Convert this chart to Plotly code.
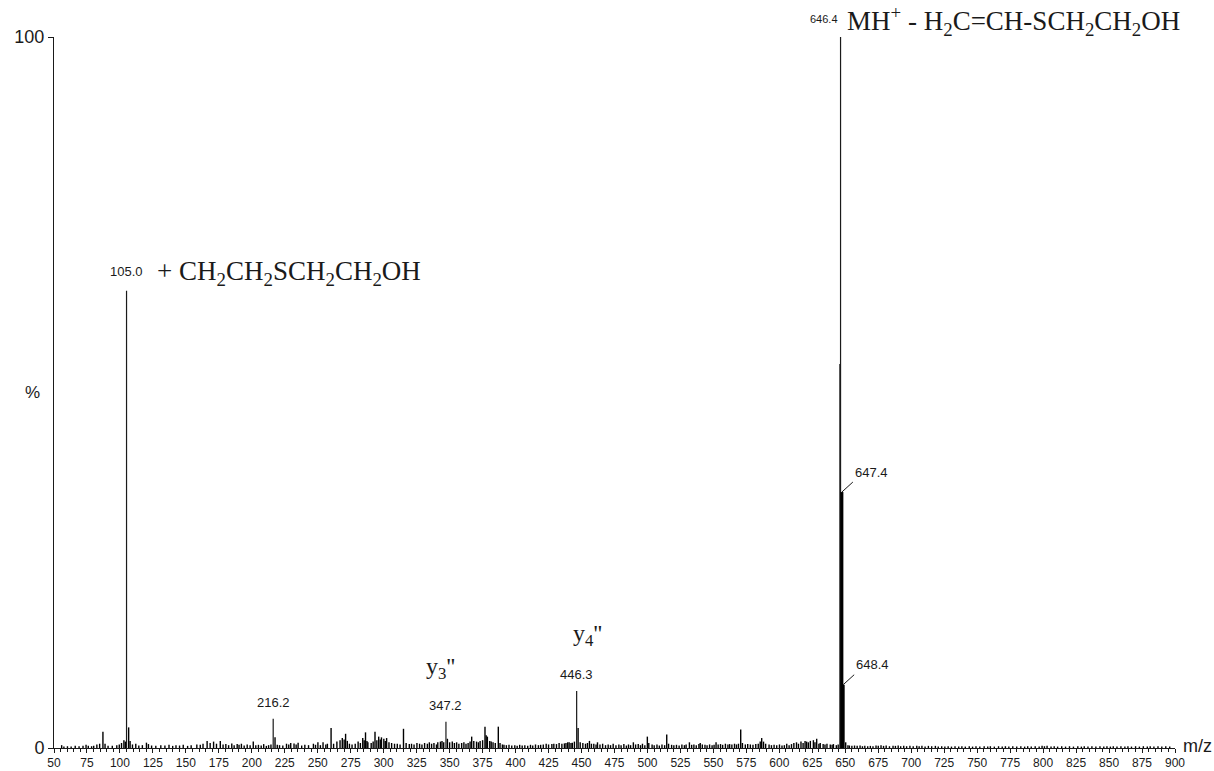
import plotly.graph_objects as go

# ---- data ----
# minor peaks / noise: [m/z, relative intensity %]
minor_peaks = [
    [55.8, 0.4], [57.5, 0.2], [60.2, 0.25], [63.0, 0.2], [66.1, 0.3], [69.0, 0.25], [72.0, 0.3], [74.3, 0.45],
    [76.0, 0.3], [78.5, 0.25], [80.1, 0.3], [82.5, 0.5], [84.6, 0.6], [87.1, 2.3], [88.7, 0.6], [91.0, 0.3],
    [94.2, 0.3], [97.6, 0.4], [99.5, 0.5], [101.2, 0.7], [103.0, 1.1], [104.1, 0.9], [106.6, 2.9], [107.7, 1.0],
    [109.5, 0.5], [112.0, 0.6], [114.3, 0.35], [117.0, 0.4], [120.1, 0.75], [121.6, 0.55], [124.0, 0.35], [127.2, 0.3],
    [131.0, 0.4], [134.1, 0.35], [137.2, 0.45], [140.0, 0.3], [142.5, 0.4], [145.2, 0.35], [148.0, 0.45], [151.3, 0.3],
    [154.0, 0.4], [158.3, 0.5], [160.9, 0.45], [163.0, 0.6], [166.1, 1.0], [168.4, 0.7], [171.0, 0.9], [173.2, 0.6],
    [176.1, 1.0], [178.2, 0.5], [180.3, 0.55], [182.4, 0.4], [184.8, 0.65], [186.6, 0.4], [188.9, 0.55], [190.3, 0.45],
    [192.1, 0.6], [194.2, 0.35], [196.5, 0.5], [198.7, 0.4], [201.1, 0.9], [203.0, 0.4], [205.0, 0.45], [207.1, 0.35],
    [209.0, 0.55], [211.0, 0.3], [212.7, 0.4], [214.5, 0.5], [217.6, 1.5], [219.3, 0.45], [221.0, 0.4], [223.5, 0.35],
    [226.3, 0.6], [228.0, 0.5], [229.5, 0.7], [232.0, 0.65], [233.6, 0.5], [235.1, 0.75], [237.8, 0.35], [240.2, 0.45],
    [243.0, 0.4], [246.7, 0.6], [248.3, 0.45], [250.1, 0.8], [252.0, 0.4], [254.0, 0.8], [256.1, 0.5], [257.3, 0.6],
    [260.1, 2.8], [262.0, 0.6], [264.5, 0.9], [266.9, 1.1], [268.6, 1.4], [270.0, 1.2], [271.1, 2.0], [272.4, 1.0],
    [274.0, 0.6], [276.0, 0.5], [278.4, 0.6], [280.6, 0.9], [282.3, 0.7], [284.1, 1.4], [285.2, 1.1], [286.2, 2.2],
    [287.3, 1.0], [288.0, 0.8], [290.5, 0.7], [292.0, 0.9], [293.4, 2.3], [294.8, 1.1], [296.2, 1.6], [297.4, 1.2],
    [298.3, 1.5], [300.1, 1.3], [301.2, 1.0], [302.2, 1.4], [304.0, 0.8], [306.0, 0.7], [308.2, 0.6], [310.3, 0.6],
    [312.4, 0.5], [315.0, 2.7], [317.0, 0.7], [319.4, 0.55], [321.1, 0.6], [323.0, 0.5], [325.2, 0.7], [327.2, 0.6],
    [329.0, 0.5], [331.0, 0.7], [333.1, 0.6], [334.6, 0.8], [336.3, 0.6], [338.1, 0.7], [340.0, 0.5], [341.0, 0.8],
    [343.0, 0.9], [344.2, 1.0], [345.5, 0.8], [348.3, 1.3], [350.0, 0.8], [352.0, 0.9], [353.6, 0.7], [355.3, 0.8],
    [357.0, 0.6], [359.1, 0.7], [360.8, 0.8], [362.4, 0.6], [364.0, 0.7], [365.5, 0.9], [366.7, 1.6], [368.3, 1.0],
    [370.4, 0.9], [371.8, 0.8], [373.1, 1.0], [375.0, 1.1], [376.8, 3.0], [377.7, 1.8], [378.6, 1.6], [380.4, 1.0],
    [381.5, 0.9], [382.9, 0.8], [384.6, 0.7], [386.9, 3.0], [388.2, 0.7], [390.0, 0.5], [391.2, 0.45], [393.0, 0.4],
    [395.0, 0.45], [397.1, 0.35], [399.4, 0.4], [401.2, 0.3], [403.1, 0.45], [405.0, 0.35], [407.0, 0.4], [409.2, 0.3],
    [411.3, 0.45], [413.0, 0.35], [415.1, 0.5], [417.3, 0.4], [419.0, 0.45], [421.0, 0.5], [423.2, 0.6], [425.0, 0.5],
    [427.5, 0.55], [429.0, 0.6], [431.0, 0.55], [433.0, 0.7], [435.1, 0.6], [437.0, 0.65], [438.2, 0.7], [439.5, 0.8],
    [440.6, 0.8], [442.0, 0.7], [443.0, 0.75], [444.6, 0.9], [447.4, 2.8], [449.0, 0.8], [451.0, 0.7], [453.0, 0.6],
    [454.5, 0.7], [456.0, 1.0], [457.5, 0.6], [459.3, 0.6], [461.0, 0.5], [462.1, 0.8], [464.0, 0.5], [466.0, 0.6],
    [468.2, 0.4], [470.2, 0.5], [472.0, 0.4], [474.0, 0.6], [476.1, 0.4], [478.3, 0.5], [480.0, 0.4], [482.1, 0.55],
    [484.0, 0.35], [485.6, 0.5], [487.2, 0.4], [489.3, 0.8], [491.0, 0.5], [493.0, 0.55], [494.7, 0.4], [496.2, 0.6],
    [498.0, 0.4], [499.9, 1.6], [501.0, 0.7], [503.5, 0.5], [505.1, 0.4], [507.2, 0.5], [509.0, 0.35], [511.0, 0.5],
    [513.0, 0.4], [514.6, 1.9], [516.0, 0.6], [518.3, 0.45], [520.0, 0.4], [522.0, 0.45], [524.0, 0.35], [526.1, 0.5],
    [528.0, 0.4], [529.3, 0.5], [531.8, 0.8], [533.5, 0.45], [535.2, 0.5], [537.0, 0.4], [539.0, 0.55], [540.0, 0.7],
    [541.6, 0.5], [543.6, 0.45], [545.2, 0.4], [547.1, 0.5], [549.0, 0.4], [550.5, 0.45], [552.0, 0.8], [553.6, 0.5],
    [555.4, 0.55], [557.0, 0.45], [559.1, 0.6], [561.0, 0.5], [562.3, 0.55], [564.0, 0.5], [566.0, 0.6], [567.5, 0.5],
    [569.0, 0.6], [570.7, 2.6], [572.0, 0.7], [574.2, 0.5], [576.0, 0.55], [578.0, 0.5], [580.0, 0.45], [582.1, 0.55],
    [584.0, 0.6], [585.5, 0.9], [586.6, 1.4], [588.0, 0.9], [589.6, 0.6], [592.2, 0.5], [594.0, 0.4], [596.0, 0.45],
    [598.0, 0.4], [600.1, 0.5], [602.0, 0.35], [603.8, 0.4], [605.6, 0.6], [607.4, 0.4], [609.2, 0.55], [611.0, 0.7],
    [613.0, 0.8], [614.5, 0.6], [616.4, 0.9], [618.0, 0.7], [619.5, 1.0], [620.7, 0.9], [622.0, 0.8], [623.5, 1.0],
    [625.8, 1.1], [627.0, 0.8], [628.3, 1.3], [630.0, 0.6], [631.0, 0.7], [633.2, 0.55], [634.6, 0.5], [636.1, 0.6],
    [638.6, 0.5], [640.0, 0.45], [641.0, 0.55], [643.2, 0.4], [644.6, 0.5], [650.3, 0.8], [652.0, 0.4], [653.1, 0.35],
    [655.0, 0.3], [657.0, 0.35], [659.0, 0.3], [661.2, 0.35], [663.0, 0.25], [664.8, 0.3], [667.0, 0.25], [669.0, 0.3],
    [671.0, 0.25], [673.3, 0.35], [675.0, 0.3], [677.1, 0.4], [679.0, 0.3], [681.0, 0.35], [683.5, 0.25], [686.2, 0.3],
    [688.0, 0.3], [690.1, 0.35], [692.0, 0.25], [694.3, 0.3], [696.5, 0.25], [699.0, 0.3], [701.5, 0.25], [704.2, 0.3],
    [706.0, 0.25], [708.1, 0.3], [710.5, 0.2], [713.0, 0.3], [715.5, 0.25], [718.3, 0.3], [720.5, 0.2], [723.1, 0.25],
    [725.5, 0.2], [728.0, 0.25], [730.5, 0.2], [733.2, 0.25], [736.0, 0.2], [738.4, 0.25], [741.0, 0.2], [744.0, 0.25],
    [746.5, 0.2], [749.1, 0.25], [752.0, 0.2], [755.3, 0.25], [758.0, 0.2], [760.0, 0.25], [763.0, 0.2], [766.2, 0.25],
    [769.0, 0.2], [771.4, 0.25], [774.0, 0.2], [777.0, 0.25], [780.0, 0.2], [783.1, 0.25], [786.0, 0.2], [788.3, 0.25],
    [791.0, 0.2], [794.0, 0.25], [797.0, 0.2], [799.2, 0.3], [801.0, 0.25], [803.0, 0.3], [806.0, 0.2], [808.4, 0.25],
    [811.0, 0.2], [814.1, 0.25], [817.0, 0.2], [820.0, 0.25], [823.0, 0.2], [826.3, 0.25], [829.0, 0.2], [831.2, 0.25],
    [834.0, 0.2], [837.0, 0.25], [840.0, 0.2], [843.1, 0.25], [846.0, 0.2], [848.4, 0.25], [851.0, 0.2], [853.2, 0.25],
    [856.0, 0.2], [859.0, 0.25], [862.0, 0.2], [864.3, 0.25], [867.0, 0.2], [870.1, 0.25], [873.0, 0.2], [876.0, 0.25],
    [879.0, 0.2], [881.2, 0.25], [884.0, 0.2], [887.1, 0.25], [890.0, 0.2], [893.0, 0.25], [896.0, 0.2],
]

# labelled peaks
label_mz = [105.0, 216.2, 347.2, 446.3, 645.9, 646.4]
label_int = [64.3, 4.1, 3.7, 8.0, 54.0, 100.0]
label_text = ["105.0", "216.2", "347.2", "446.3", "", "646.4"]

# isotope peaks (drawn thick)
iso_mz = [647.4, 648.4]
iso_int = [36.0, 8.9]
iso_text = ["647.4", "648.4"]

x_ticks = list(range(50, 901, 25))

INK = "#1a1a1a"
SANS = "Liberation Sans, Arial, sans-serif"
SERIF = "Liberation Serif, Times New Roman, serif"


def sticks(mz, inten):
    xs, ys = [], []
    for m, i in zip(mz, inten):
        xs += [m, m, None]
        ys += [0, i, None]
    return xs, ys


fig = go.Figure()
mx, my = sticks([p[0] for p in minor_peaks], [p[1] for p in minor_peaks])
fig.add_trace(go.Scatter(x=mx, y=my, mode="lines", line=dict(color="#000000", width=1.4), hoverinfo="skip"))
lx, ly = sticks(label_mz, label_int)
fig.add_trace(go.Scatter(x=lx, y=ly, mode="lines", line=dict(color=INK, width=1.2), hoverinfo="skip"))
ix, iy = sticks(iso_mz, iso_int)
fig.add_trace(go.Scatter(x=ix, y=iy, mode="lines", line=dict(color="#000000", width=3), hoverinfo="skip"))

ann = []
for m, i, t in zip(label_mz, label_int, label_text):
    if not t or m == 646.4:
        continue
    ann.append(dict(x=m, y=i, text=t, showarrow=False, xanchor="center", yanchor="bottom",
                    yshift=10 if m == 105.0 else 7, font=dict(family=SANS, size=13, color=INK)))

# 646.4 label, small, left of top
ann.append(dict(x=646.4, y=100, text="646.4", showarrow=False, xanchor="right", yanchor="bottom",
                xshift=-1, yshift=10, font=dict(family=SANS, size=11, color=INK)))
ann.append(dict(x=646.4, y=100, showarrow=False, xanchor="left", yanchor="middle", xshift=4, yshift=16,
                text="MH<sup>+</sup> - H<sub>2</sub>C=CH-SCH<sub>2</sub>CH<sub>2</sub>OH",
                font=dict(family=SERIF, size=27, color=INK)))
ann.append(dict(x=105.0, y=64.3, showarrow=False, xanchor="left", yanchor="middle", xshift=28, yshift=18,
                text="+ CH<sub>2</sub>CH<sub>2</sub>SCH<sub>2</sub>CH<sub>2</sub>OH",
                font=dict(family=SERIF, size=27, color=INK)))
ann.append(dict(x=347.2, y=3.7, showarrow=False, xanchor="center", yanchor="middle", xshift=-5, yshift=54,
                text="y<sub>3</sub>''", font=dict(family=SERIF, size=24, color=INK)))
ann.append(dict(x=446.3, y=8.0, showarrow=False, xanchor="center", yanchor="middle", xshift=11, yshift=56,
                text="y<sub>4</sub>''", font=dict(family=SERIF, size=24, color=INK)))

shapes = []
for m, i, t in zip(iso_mz, iso_int, iso_text):
    shapes.append(dict(type="line", xref="x", yref="y", xsizemode="pixel", ysizemode="pixel",
                       xanchor=m, yanchor=i, x0=0, x1=11, y0=0, y1=10,
                       line=dict(color=INK, width=1)))
    ann.append(dict(x=m, y=i, text=t, showarrow=False, xanchor="left", yanchor="middle",
                    xshift=11, yshift=20, font=dict(family=SANS, size=13, color=INK)))

ann.append(dict(x=1.005, xref="paper", y=0, yref="y", text="m/z", showarrow=False, xanchor="left",
                yanchor="middle", yshift=2, font=dict(family=SANS, size=18, color=INK)))
ann.append(dict(x=0, xref="paper", y=50, yref="y", text="%", showarrow=False, xanchor="right",
                yanchor="middle", xshift=-12, font=dict(family=SANS, size=17, color=INK)))

fig.update_layout(
    width=1214, height=771,
    margin=dict(l=54, r=39, t=37, b=23, autoexpand=False),
    paper_bgcolor="white", plot_bgcolor="white",
    showlegend=False,
    annotations=ann, shapes=shapes,
    xaxis=dict(range=[50, 900], tickvals=x_ticks, ticktext=[str(v) for v in x_ticks], automargin=False,
               showgrid=False, zeroline=False, showline=True, linecolor=INK, linewidth=1,
               ticks="outside", ticklen=4, tickcolor=INK, tickwidth=1, ticklabelstandoff=0,
               minor=dict(dtick=5, tick0=50, ticks="outside", ticklen=3, tickcolor=INK, tickwidth=1),
               tickfont=dict(family=SANS, size=12, color=INK)),
    yaxis=dict(range=[0, 100], tickvals=[0, 100], ticktext=["0", "100"], automargin=False,
               showgrid=False, zeroline=False, showline=True, linecolor=INK, linewidth=1,
               ticks="outside", ticklen=5, tickcolor=INK, tickwidth=1,
               tickfont=dict(family=SANS, size=18, color=INK)),
)

fig.write_html("out.html")
